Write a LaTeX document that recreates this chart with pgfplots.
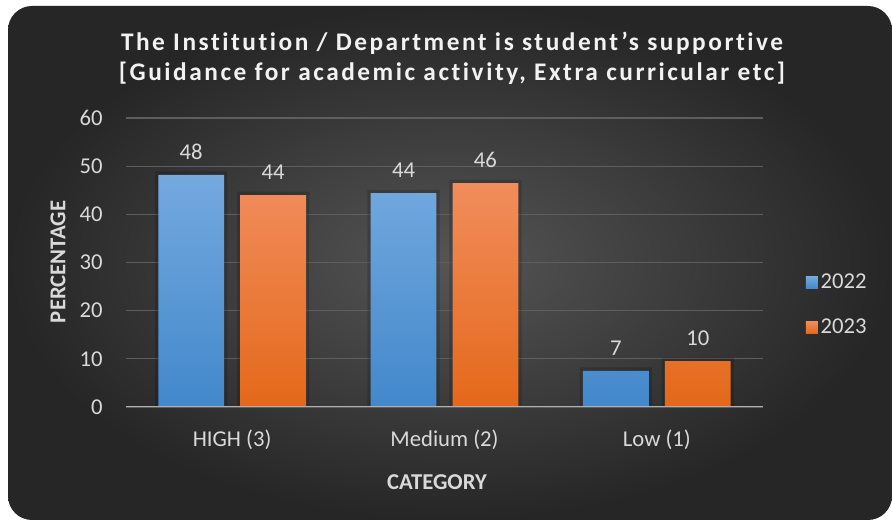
\documentclass[border=0pt]{standalone}
\usepackage{pgfplots}
\pgfplotsset{compat=1.18}
\usepackage{fontspec}
\setmainfont{Carlito}
\definecolor{lbl}{HTML}{D9D9D9}
\definecolor{ttl}{HTML}{F2F2F2}
\definecolor{bgin}{HTML}{555555}
\definecolor{bgout}{HTML}{262626}
\definecolor{gridc}{HTML}{5E5E5E}
\definecolor{zeroc}{HTML}{B0B0B0}
\definecolor{btop}{HTML}{74A9DF}
\definecolor{bbot}{HTML}{4288CB}
\definecolor{otop}{HTML}{F18D5C}
\definecolor{obot}{HTML}{E4681A}
\begin{document}
\begin{tikzpicture}
\fill[white] (0,0) rectangle (669pt,390pt);
\shade[rounded corners=18pt, inner color=bgin, outer color=bgout] (6pt,0pt) rectangle (669pt,385.5pt);
\begin{axis}[
  at={(94.5pt,84.75pt)}, anchor=south west,
  scale only axis, width=477.75pt, height=216.75pt,
  xmin=-0.5, xmax=2.5, ymin=0, ymax=60,
  xtick={0,1,2}, xticklabels={HIGH (3),Medium (2),Low (1)},
  ytick={0,10,...,60},
  axis line style={draw=none},
  major tick length=0pt,
  ymajorgrids, grid style={draw=gridc, line width=0.9pt},
  tick label style={text=lbl, font=\fontsize{17}{20}\selectfont},
  /pgf/number format/assume math mode=true,
  yticklabel style={anchor=east, xshift=-14pt},
  xticklabel style={anchor=north, yshift=-14pt},
  ybar, bar width=0.31,
  nodes near coords, point meta=explicit symbolic,
  every node near coord/.append style={text=lbl, font=\fontsize{17}{20}\selectfont, yshift=8pt},
  legend style={at={(1,0.353)}, anchor=west, xshift=32pt, draw=none, fill=none, text=lbl, font=\fontsize{17}{20}\selectfont, row sep=17pt, inner sep=0pt},
  legend cell align=left,
]
% soft shadows behind the bars
\addplot[forget plot, draw=none, fill=black, fill opacity=0.16, bar shift=-0.193, bar width=0.34, nodes near coords={}]
  coordinates {(0,48.9) (1,45.1) (2,8.2)};
\addplot[forget plot, draw=none, fill=black, fill opacity=0.16, bar shift=0.193, bar width=0.34, nodes near coords={}]
  coordinates {(0,44.7) (1,47.2) (2,10.2)};
\addplot[draw=none, bar shift=-0.193, top color=btop, bottom color=bbot,
  legend image code/.code={\fill[btop!60!bbot] (0pt,-4.5pt) rectangle (9pt,4.5pt);}]
  coordinates {(0,48.2) [48] (1,44.4) [44] (2,7.5) [7]};
\addlegendentry{2022}
\addplot[draw=none, bar shift=0.193, top color=otop, bottom color=obot,
  legend image code/.code={\fill[otop!60!obot] (0pt,-4.5pt) rectangle (9pt,4.5pt);}]
  coordinates {(0,44.0) [44] (1,46.5) [46] (2,9.5) [10]};
\addlegendentry{2023}
\draw[zeroc, line width=1.5pt] (axis cs:-0.5,0) -- (axis cs:2.5,0);
\end{axis}
\node[text=ttl, font=\fontsize{19}{22}\selectfont\bfseries\addfontfeature{LetterSpace=10,Ligatures=NoCommon}] at (339pt,357.75pt) {The Institution / Department is student’s supportive};
\node[text=ttl, font=\fontsize{19}{22}\selectfont\bfseries\addfontfeature{LetterSpace=10,Ligatures=NoCommon}] at (339pt,335.25pt) {[Guidance for academic activity, Extra curricular etc]};
\node[text=lbl, rotate=90, font=\fontsize{17}{20}\selectfont\bfseries] at (43.5pt,193.5pt) {PERCENTAGE};
\node[text=lbl, font=\fontsize{17}{20}\selectfont\bfseries] at (327.75pt,28.5pt) {CATEGORY};
\end{tikzpicture}
\end{document}
